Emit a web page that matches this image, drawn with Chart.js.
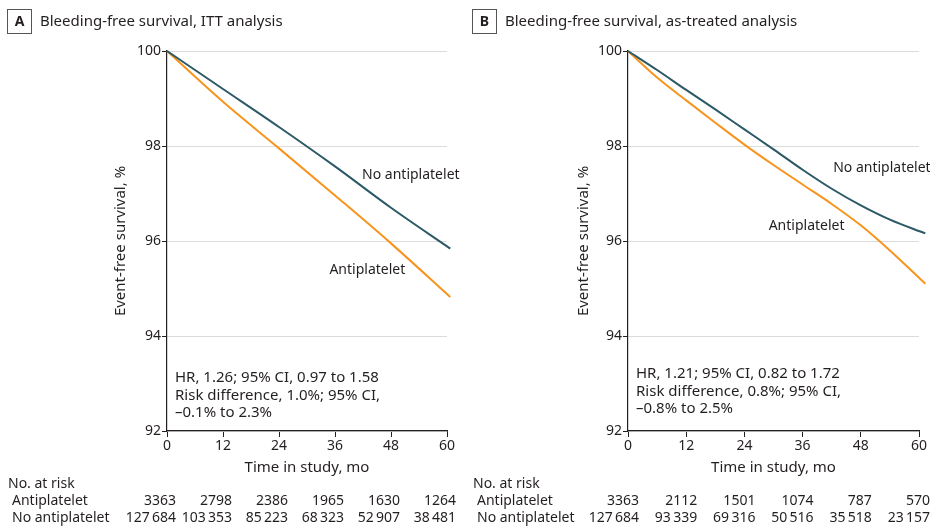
<!DOCTYPE html>
<html lang="en">
<head>
<meta charset="UTF-8">
<title>Bleeding-free survival</title>
<script src="https://cdn.jsdelivr.net/npm/chart.js@4.4.1/dist/chart.umd.min.js"></script>
<style>
  body { margin: 0; background: #fff; }
  #wrap { position: relative; width: 930px; height: 527px; }
  canvas { position: absolute; top: 0; }
  #chartA { left: 0; }
  #chartB { left: 465px; }
</style>
</head>
<body>
<div id="wrap">
  <canvas id="chartA" width="465" height="527"></canvas>
  <canvas id="chartB" width="465" height="527"></canvas>
</div>
<script>
// time axis (months)
const monthsA = [0, 12, 24, 36, 48, 60.7];
const monthsB = [0, 6, 12, 18, 24, 30, 36, 42, 48, 54, 61.3];

// panel A, ITT analysis
const noAntiA = [100, 99.2, 98.4, 97.57, 96.7, 95.84];
const antiA   = [100, 98.93, 97.95, 96.96, 95.95, 94.82];

// panel B, as-treated analysis
const noAntiB = [100, 99.6, 99.18, 98.77, 98.35, 97.93, 97.5, 97.1, 96.75, 96.45, 96.16];
const antiB   = [100, 99.44, 98.96, 98.49, 98.03, 97.6, 97.19, 96.78, 96.33, 95.8, 95.1];

const xTicks = [0, 12, 24, 36, 48, 60];
const riskLabels = ['Antiplatelet', 'No antiplatelet'];
const riskA = [
  ['3363', '2798', '2386', '1965', '1630', '1264'],
  ['127\u2009684', '103\u2009353', '85\u2009223', '68\u2009323', '52\u2009907', '38\u2009481']
];
const riskB = [
  ['3363', '2112', '1501', '1074', '787', '570'],
  ['127\u2009684', '93\u2009339', '69\u2009316', '50\u2009516', '35\u2009518', '23\u2009157']
];

const FONT = '"Noto Sans", sans-serif';
const TXT = '#231f20';
const TEAL = '#2b5966';
const ORANGE = '#f7941d';

Chart.defaults.font.family = FONT;
Chart.defaults.font.size = 14;
Chart.defaults.color = TXT;

function pts(xs, ys) {
  return xs.map((x, i) => ({ x: x, y: ys[i] }));
}

// draws the panel header, curve labels, stats text and the risk table
const extras = {
  id: 'extras',
  afterDraw(chart, args, o) {
    const ctx = chart.ctx;
    const xs = chart.scales.x, ys = chart.scales.y;
    ctx.save();
    ctx.fillStyle = TXT;
    ctx.textBaseline = 'middle';

    // letter box + title
    ctx.strokeStyle = '#555';
    ctx.lineWidth = 1;
    ctx.strokeRect(o.boxX + 0.5, 9.5, 24, 24);
    ctx.font = 'bold 14px ' + FONT;
    ctx.textAlign = 'center';
    ctx.fillText(o.letter, o.boxX + 12.5, 22);
    ctx.font = '15px ' + FONT;
    ctx.textAlign = 'left';
    ctx.fillText(o.title, o.boxX + 33, 22);

    // stats note
    o.note.forEach((line, i) => {
      ctx.fillText(line, xs.left + 8, o.noteY + i * 17.5);
    });

    // curve labels
    ctx.font = '14px ' + FONT;
    o.curveLabels.forEach(l => {
      ctx.fillText(l.text, xs.getPixelForValue(l.x), ys.getPixelForValue(l.y));
    });

    // number at risk
    ctx.fillText('No. at risk', o.boxX + 1, 484);
    riskLabels.forEach((lab, r) => {
      const y = 501.5 + r * 17;
      ctx.textAlign = 'left';
      ctx.fillText(lab, o.boxX + 5, y);
      ctx.textAlign = 'right';
      o.risk[r].forEach((v, i) => {
        ctx.fillText(v, xs.getPixelForValue(xTicks[i]) + o.riskShift, y);
      });
    });
    ctx.restore();
  }
};

function makeChart(id, months, noAnti, anti, o) {
  return new Chart(document.getElementById(id), {
    type: 'line',
    data: {
      datasets: [
        { label: 'No antiplatelet', data: pts(months, noAnti), borderColor: TEAL },
        { label: 'Antiplatelet', data: pts(months, anti), borderColor: ORANGE }
      ]
    },
    options: {
      responsive: false,
      animation: false,
      datasets: {
        line: { borderWidth: 2, pointRadius: 0, cubicInterpolationMode: 'monotone', clip: false }
      },
      layout: { padding: { left: o.padLeft, right: o.padRight, top: 51, bottom: 50 } },
      plugins: { legend: { display: false }, tooltip: { enabled: false }, extras: o },
      scales: {
        x: {
          type: 'linear', min: 0, max: 60,
          afterBuildTicks: s => { s.ticks = xTicks.map(v => ({ value: v })); },
          afterFit: s => { s.height = 46; },
          ticks: { padding: 1, maxRotation: 0 },
          grid: { drawOnChartArea: false, drawTicks: true, tickLength: 6, tickColor: '#231f20' },
          border: { color: '#231f20', width: 1.2 },
          title: { display: true, text: 'Time in study, mo', padding: 0, font: { size: 15 } }
        },
        y: {
          min: 92, max: 100,
          afterFit: s => { s.width = o.yWidth; },
          ticks: { stepSize: 2, padding: 1 },
          grid: { color: '#dcdcdc', tickColor: '#231f20', tickLength: 5 },
          border: { color: '#231f20', width: 1.2 },
          title: { display: true, text: 'Event-free survival, %', padding: 0, font: { size: 15 } }
        }
      }
    },
    plugins: [extras]
  });
}

makeChart('chartA', monthsA, noAntiA, antiA, {
  letter: 'A', boxX: 7, title: 'Bleeding-free survival, ITT analysis',
  padLeft: 112, yWidth: 55, padRight: 18,
  curveLabels: [{ text: 'No antiplatelet', x: 41.8, y: 97.38 }, { text: 'Antiplatelet', x: 34.8, y: 95.38 }],
  note: ['HR, 1.26; 95% CI, 0.97 to 1.58', 'Risk difference, 1.0%; 95% CI,', '\u20130.1% to 2.3%'],
  noteY: 378, risk: riskA, riskShift: 9
});

makeChart('chartB', monthsB, noAntiB, antiB, {
  letter: 'B', boxX: 7, title: 'Bleeding-free survival, as-treated analysis',
  padLeft: 110, yWidth: 53, padRight: 11,
  curveLabels: [{ text: 'No antiplatelet', x: 42.3, y: 97.53 }, { text: 'Antiplatelet', x: 29, y: 96.32 }],
  note: ['HR, 1.21; 95% CI, 0.82 to 1.72', 'Risk difference, 0.8%; 95% CI,', '\u20130.8% to 2.5%'],
  noteY: 374, risk: riskB, riskShift: 11
});
</script>
</body>
</html>
